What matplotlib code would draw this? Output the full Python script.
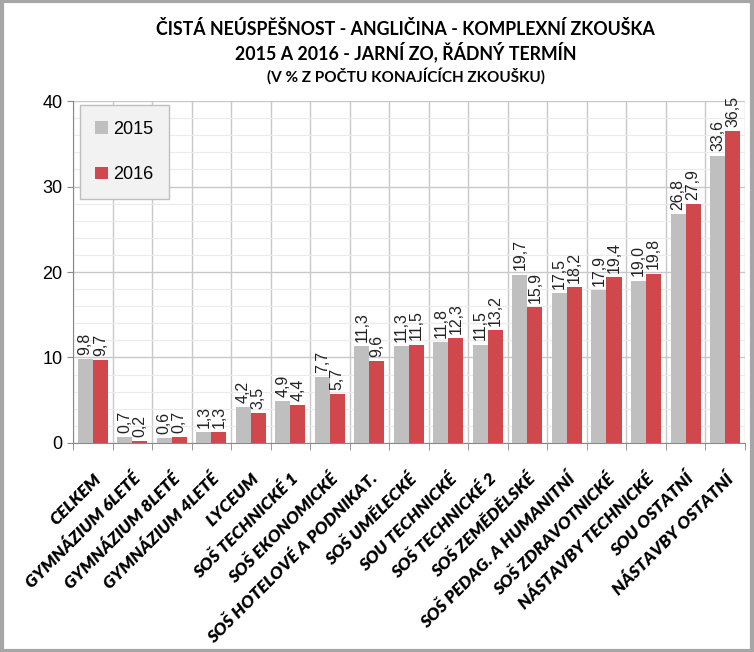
import numpy as np
import matplotlib.pyplot as plt
from matplotlib.ticker import MultipleLocator

categories = ["CELKEM", "GYMNÁZIUM 6LETÉ", "GYMNÁZIUM 8LETÉ", "GYMNÁZIUM 4LETÉ",
              "LYCEUM", "SOŠ TECHNICKÉ 1", "SOŠ EKONOMICKÉ", "SOŠ HOTELOVÉ A PODNIKAT.",
              "SOŠ UMĚLECKÉ", "SOU TECHNICKÉ", "SOŠ TECHNICKÉ 2", "SOŠ ZEMĚDĚLSKÉ",
              "SOŠ PEDAG. A HUMANITNÍ", "SOŠ ZDRAVOTNICKÉ", "NÁSTAVBY TECHNICKÉ",
              "SOU OSTATNÍ", "NÁSTAVBY OSTATNÍ"]
vals_2015 = [9.8, 0.7, 0.6, 1.3, 4.2, 4.9, 7.7, 11.3, 11.3, 11.8, 11.5, 19.7,
             17.5, 17.9, 19.0, 26.8, 33.6]
vals_2016 = [9.7, 0.2, 0.7, 1.3, 3.5, 4.4, 5.7, 9.6, 11.5, 12.3, 13.2, 15.9,
             18.2, 19.4, 19.8, 27.9, 36.5]

plt.rcParams['font.family'] = ['Lato', 'DejaVu Sans']
label_font = ['Liberation Sans', 'DejaVu Sans']

fig = plt.figure(figsize=(7.54, 6.52), dpi=100)
ax = fig.add_axes([0.0968, 0.3206, 0.891, 0.5244])

x = np.arange(len(categories))
w = 0.38
b1 = ax.bar(x - w / 2, vals_2015, w, color='#BFBFBF', label='2015', zorder=3)
b2 = ax.bar(x + w / 2, vals_2016, w, color='#D0484B', label='2016', zorder=3)

for bars, vals in [(b1, vals_2015), (b2, vals_2016)]:
    for r, v in zip(bars, vals):
        ax.text(r.get_x() + r.get_width() / 2, v + 0.5, f"{v:.1f}".replace('.', ','),
                rotation=90, ha='center', va='bottom', fontsize=11.5,
                family=label_font, color='#222222')

ax.set_xlim(-0.5, len(categories) - 0.5)
ax.set_ylim(0, 40)
ax.yaxis.set_major_locator(MultipleLocator(10))
ax.yaxis.set_minor_locator(MultipleLocator(2))
ax.set_xticks(np.arange(len(categories) + 1) - 0.5, minor=True)
ax.set_xticks(x)
ax.set_xticklabels(categories, rotation=45, ha='right', rotation_mode='anchor',
                   fontsize=12.5, fontweight='heavy', fontstyle='italic')
ax.tick_params(axis='x', which='major', length=0, pad=20)
ax.tick_params(axis='x', which='minor', length=5, color='#888888')
ax.tick_params(axis='y', which='major', length=4, color='#888888', labelsize=13)
ax.tick_params(axis='y', which='minor', length=0)
for t in ax.get_yticklabels():
    t.set_family(label_font)

ax.grid(axis='y', which='major', color='#C8C8C8', linewidth=1, zorder=0)
ax.grid(axis='y', which='minor', color='#EBEBEB', linewidth=0.8, zorder=0)
ax.grid(axis='x', which='minor', color='#C8C8C8', linewidth=1, zorder=0)
for s in ['top', 'right']:
    ax.spines[s].set_visible(False)
for s in ['left', 'bottom']:
    ax.spines[s].set_color('#888888')

leg = ax.legend(loc='upper left', bbox_to_anchor=(0.0104, 0.988), borderaxespad=0,
                frameon=True, fancybox=False, labelspacing=1.6, handlelength=0.7,
                handleheight=0.7, handletextpad=0.3, borderpad=0.85,
                prop={'family': label_font, 'size': 13})
leg.get_frame().set_facecolor('#F2F2F2')
leg.get_frame().set_edgecolor('#BFBFBF')
leg.get_frame().set_alpha(1)

fig.text(0.538, 0.955, "ČISTÁ NEÚSPĚŠNOST - ANGLIČINA - KOMPLEXNÍ ZKOUŠKA",
         ha='center', va='center', fontsize=12.8, fontweight='bold')
fig.text(0.538, 0.92, "2015 A 2016 - JARNÍ ZO, ŘÁDNÝ TERMÍN",
         ha='center', va='center', fontsize=12.8, fontweight='bold')
fig.text(0.538, 0.883, "(V % Z POČTU KONAJÍCÍCH ZKOUŠKU)",
         ha='center', va='center', fontsize=11, fontweight='bold')

fig.patches.append(plt.Rectangle((0.002, 0.002), 0.996, 0.996, transform=fig.transFigure,
                                 fill=False, edgecolor='#A6A6A6', linewidth=3))

fig.savefig('out.png', dpi=100)
